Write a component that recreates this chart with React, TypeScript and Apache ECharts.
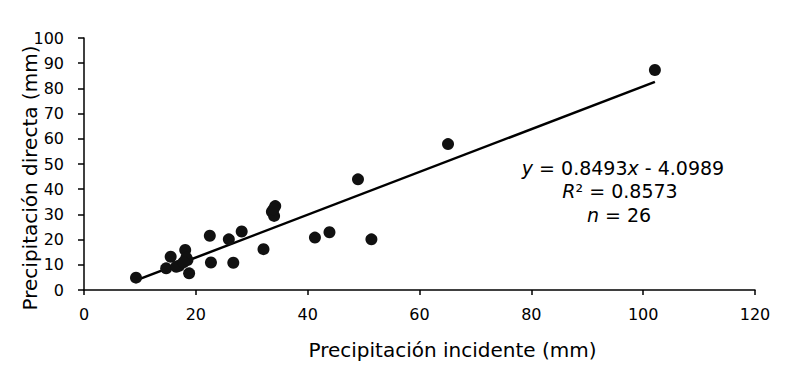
import React, { useEffect, useRef } from "react";
import * as echarts from "echarts";

const incidente: number[] = [
  9.3, 14.7, 15.5, 17.0, 16.5, 18.1, 18.5, 18.3, 17.8, 18.8,
  22.5, 22.7, 25.9, 26.7, 28.2, 32.1, 34.2, 33.6, 34.0, 33.9,
  41.3, 43.9, 49.0, 51.4, 65.1, 102.1,
];
const directa: number[] = [
  4.9, 8.6, 13.2, 9.6, 9.2, 15.9, 11.9, 12.8, 11.0, 6.6,
  21.5, 10.9, 20.1, 10.8, 23.2, 16.2, 33.3, 31.1, 29.4, 32.0,
  20.8, 22.9, 43.9, 20.1, 57.9, 87.3,
];
const slope = 0.8493;
const intercept = -4.0989;
const r2 = 0.8573;
const xTicks = { min: 0, max: 120, interval: 20 };
const yTicks = { min: 0, max: 100, interval: 10 };

export default function App() {
  const ref = useRef<HTMLDivElement>(null);
  useEffect(() => {
    if (!ref.current) return;
    const chart = echarts.init(ref.current, undefined, { renderer: "svg" });
    const pts = incidente.map((x, i) => [x, directa[i]]);
    const xmin = Math.min(...incidente);
    const xmax = Math.max(...incidente);
    const trend = [
      [xmin, slope * xmin + intercept],
      [xmax, slope * xmax + intercept],
    ];
    const font = "DejaVu Sans, Verdana, sans-serif";
    const annSize = 19;
    const rich = { i: { fontStyle: "italic", fontSize: annSize, fontFamily: font, fill: "#000" } };
    const annStyle = (text: string) => ({
      text,
      fontSize: annSize,
      fontFamily: font,
      fill: "#000",
      align: "center",
      verticalAlign: "middle",
      rich,
    });
    chart.setOption({
      animation: false,
      textStyle: { fontFamily: font },
      grid: { left: 76, right: 23, top: 30, bottom: 79, outerBoundsMode: "none", containLabel: false },
      xAxis: {
        type: "value",
        ...xTicks,
        name: "Precipitación incidente (mm)",
        nameLocation: "middle",
        nameGap: 50,
        nameMoveOverlap: false,
        nameTextStyle: { fontSize: 20, color: "#000", fontFamily: font, padding: [0, 0, 0, 66] },
        axisLine: { show: true, onZero: false, lineStyle: { color: "#000", width: 1.5 } },
        axisTick: { show: true, length: 5, lineStyle: { color: "#000", width: 1.5 } },
        axisLabel: { fontSize: 16, color: "#000", margin: 16, fontFamily: font },
        splitLine: { show: false },
      },
      yAxis: {
        type: "value",
        ...yTicks,
        name: "Precipitación directa (mm)",
        nameLocation: "middle",
        nameGap: 44,
        nameMoveOverlap: false,
        nameTextStyle: { fontSize: 20, color: "#000", fontFamily: font, padding: [0, 28, 0, 0] },
        axisLine: { show: true, onZero: false, lineStyle: { color: "#000", width: 1.5 } },
        axisTick: { show: true, length: 6, lineStyle: { color: "#000", width: 1.5 } },
        axisLabel: { fontSize: 16, color: "#000", margin: 20, fontFamily: font },
        splitLine: { show: false },
      },
      series: [
        {
          type: "line",
          data: trend,
          showSymbol: false,
          symbol: "none",
          lineStyle: { color: "#000", width: 2.5 },
          z: 1,
        },
        {
          type: "scatter",
          data: pts,
          symbol: "circle",
          symbolSize: 12,
          itemStyle: { color: "#111", opacity: 1 },
          z: 2,
        },
      ],
      graphic: [
        {
          type: "text",
          x: 615,
          y: 160,
          style: annStyle(
            "{i|y} = " + slope.toFixed(4) + "{i|x} - " + Math.abs(intercept).toFixed(4)
          ),
        },
        {
          type: "text",
          x: 612,
          y: 183,
          style: annStyle("{i|R}² = " + r2.toFixed(4)),
        },
        {
          type: "text",
          x: 611,
          y: 207,
          style: annStyle("{i|n} = " + incidente.length),
        },
      ],
    });
    return () => chart.dispose();
  }, []);
  return <div ref={ref} style={{ width: 770, height: 361 }} />;
}
